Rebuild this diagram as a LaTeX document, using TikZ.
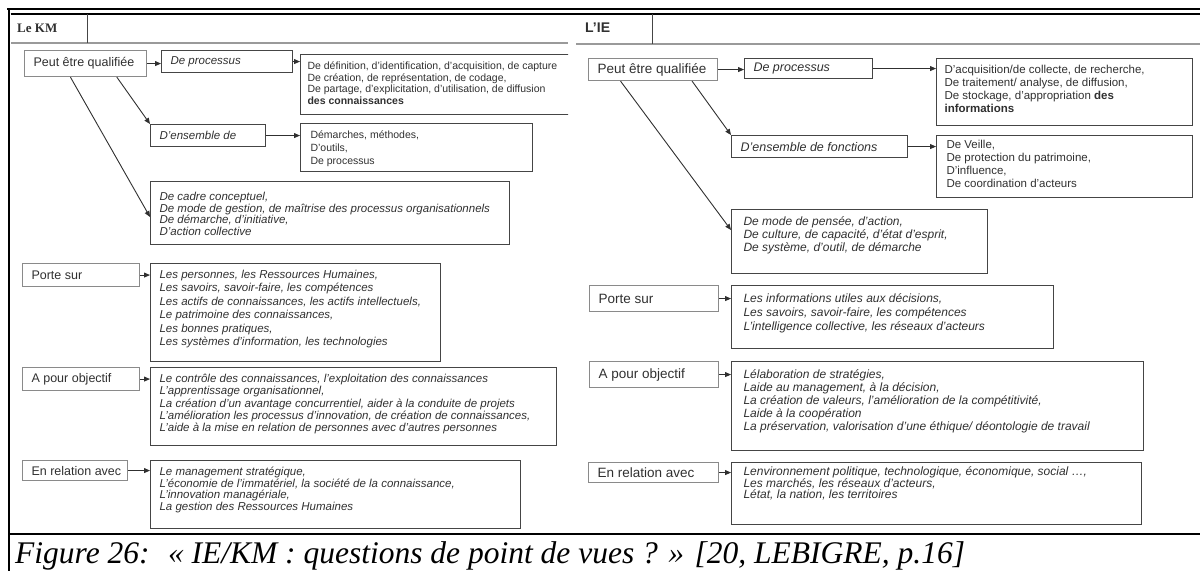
\documentclass[tikz,border=0pt]{standalone}
\usepackage{fontspec}
\setmainfont{Liberation Sans}
\newfontfamily\serifcap{Liberation Serif}
\usetikzlibrary{arrows.meta,calc}

\definecolor{inkc}{HTML}{303030}
\definecolor{frameedge}{HTML}{454545}
\definecolor{labeledge}{HTML}{8A8A8A}
\definecolor{ruleg}{HTML}{9A9A9A}

% content box: width, height, left pad, first baseline, text
\newcommand{\cbx}[5]{\parbox[c][#2pt][t]{#1pt}{\raggedright\leftskip=#3pt\relax\rule{0pt}{#4pt}#5}}
% label box: width, height, text (one line, vertically centred)
\newcommand{\lbx}[3]{\parbox[c][#2pt][c]{#1pt}{\hspace*{9pt}#3}}
\newcommand{\fs}[2]{\fontsize{#1}{#2}\selectfont}

\tikzset{
  box/.style={draw=frameedge, line width=1.1pt, inner sep=0pt, anchor=north west, text=inkc},
  lab/.style={draw=labeledge, line width=1.1pt, inner sep=0pt, anchor=north west, text=inkc},
  conn/.style={draw=inkc, line width=0.9pt, -{Triangle[length=6pt,width=5pt]}},
  frame/.style={draw=black, line width=1.8pt},
  hrule/.style={draw=ruleg, line width=1.4pt},
}

\begin{document}
\begin{tikzpicture}[x=1pt,y=-1pt]
\useasboundingbox (0,0) rectangle (1200,571);

% ---- table frame ----
\draw[frame] (7,9) -- (1200,9);
\draw[frame] (10.5,14) -- (1200,14);
\draw[frame, line width=2pt] (9,8.1) -- (9,571);
\draw[frame, line width=2pt] (9,534) -- (1200,534);

% ---- column headers ----
\node[anchor=base west, inner sep=0pt, text=inkc] (kmhead) at (17,32) {\serifcap\bfseries\fs{13}{14}Le KM};
\node[anchor=base west, inner sep=0pt, text=inkc] (iehead) at (585,32) {\bfseries\fs{14}{15}L'IE};
\draw[hrule] (11,43) -- (568,43);
\draw[hrule] (576,44) -- (1200,44);
\draw[draw=frameedge, line width=1pt] (87,14) -- (87,43);
\draw[draw=frameedge, line width=1pt] (652,14) -- (652,44);

% ================= Le KM =================
\node[lab] (peutL) at (24,50) {\lbx{122}{26}{\fs{12.5}{14}Peut être qualifiée}};
\node[box] (procL) at (161,50) {\lbx{131}{22}{\fs{11.5}{13}\itshape De processus}};
\begin{scope}
  \clip (0,0) rectangle (568,571);
  \node[box] (defL) at (300,54) {\cbx{290}{60}{7}{15}{\fs{10.5}{11.7}%
    De définition, d'identification, d'acquisition, de capture\\
    De création, de représentation, de codage,\\
    De partage, d'explicitation, d'utilisation, de diffusion\\
    \textbf{des connaissances}}};
\end{scope}
\node[box] (ensL) at (150,124) {\lbx{115}{22}{\fs{11.5}{13}\itshape D'ensemble de}};
\node[box] (demL) at (300,123) {\cbx{232}{48}{10}{15}{\fs{10.5}{13}%
    Démarches, méthodes,\\
    D'outils,\\
    De processus}};
\node[box] (cadreL) at (150,181) {\cbx{359}{63}{9}{19}{\fs{11.5}{11.7}\itshape
    De cadre conceptuel,\\
    De mode de gestion, de maîtrise des processus organisationnels\\
    De démarche, d'initiative,\\
    D'action collective}};

\node[lab] (porteL) at (22,263) {\lbx{117}{23}{\fs{12.5}{14}Porte sur}};
\node[box] (porteCL) at (150,263) {\cbx{290}{98}{9}{15}{\fs{11.5}{13.4}\itshape
    Les personnes, les Ressources Humaines,\\
    Les savoirs, savoir-faire, les compétences\\
    Les actifs de connaissances, les actifs intellectuels,\\
    Le patrimoine des connaissances,\\
    Les bonnes pratiques,\\
    Les systèmes d'information, les technologies}};

\node[lab] (objL) at (22,367) {\lbx{117}{23}{\fs{12.5}{14}A pour objectif}};
\node[box] (objCL) at (150,367) {\cbx{406}{78}{9}{15}{\fs{11.5}{12.3}\itshape
    Le contrôle des connaissances, l'exploitation des connaissances\\
    L'apprentissage organisationnel,\\
    La création d'un avantage concurrentiel, aider à la conduite de projets\\
    L'amélioration les processus d'innovation, de création de connaissances,\\
    L'aide à la mise en relation de personnes avec d'autres personnes}};

\node[lab] (relL) at (22,460) {\lbx{105}{20}{\fs{12.5}{14}En relation avec}};
\node[box] (relCL) at (150,460) {\cbx{370}{68}{9}{15}{\fs{11.5}{11.7}\itshape
    Le management stratégique,\\
    L'économie de l'immatériel, la société de la connaissance,\\
    L'innovation managériale,\\
    La gestion des Ressources Humaines}};

\draw[conn] (peutL.east) -- (peutL.east -| procL.west);
\draw[conn] (procL.east) -- (procL.east -| defL.west);
\draw[conn] (ensL.east) -- (ensL.east -| demL.west);
\draw[conn] ($(peutL.south west)!0.754!(peutL.south east)$) -- (ensL.north west);
\draw[conn] ($(peutL.south west)!0.377!(peutL.south east)$) -- ($(cadreL.north west)+(0,36)$);
\draw[conn] (porteL.east) -- (porteL.east -| porteCL.west);
\draw[conn] (objL.east) -- (objL.east -| objCL.west);
\draw[conn] (relL.east) -- (relL.east -| relCL.west);

% ================= L'IE =================
\node[lab] (peutR) at (588,58) {\lbx{129}{22}{\fs{13.5}{15}Peut être qualifiée}};
\node[box] (procR) at (744,58) {\lbx{128}{20}{\fs{12.5}{14}\itshape De processus}};
\node[box] (defR) at (936,58) {\cbx{256}{67}{8}{15}{\fs{11.5}{13}%
    D'acquisition/de collecte, de recherche,\\
    De traitement/ analyse, de diffusion,\\
    De stockage, d'appropriation \textbf{des}\\
    \textbf{informations}}};
\node[box] (ensR) at (731,135) {\lbx{176}{22}{\fs{12.5}{14}\itshape D'ensemble de fonctions}};
\node[box] (veilleR) at (936,135) {\cbx{256}{62}{10}{13}{\fs{11.5}{13}%
    De Veille,\\
    De protection du patrimoine,\\
    D'influence,\\
    De coordination d'acteurs}};
\node[box] (modeR) at (731,209) {\cbx{256}{64}{12}{16}{\fs{12}{13}\itshape
    De mode de pensée, d'action,\\
    De culture, de capacité, d'état d'esprit,\\
    De système, d'outil, de démarche}};

\node[lab] (porteR) at (589,285) {\lbx{129}{26}{\fs{13.5}{15}Porte sur}};
\node[box] (porteCR) at (731,285) {\cbx{322}{63}{12}{17}{\fs{12}{14}\itshape
    Les informations utiles aux décisions,\\
    Les savoirs, savoir-faire, les compétences\\
    L'intelligence collective, les réseaux d'acteurs}};

\node[lab] (objR) at (589,361) {\lbx{129}{26}{\fs{13.5}{15}A pour objectif}};
\node[box] (objCR) at (731,361) {\cbx{412}{89}{12}{17}{\fs{12}{13}\itshape
    Lélaboration de stratégies,\\
    Laide au management, à la décision,\\
    La création de valeurs, l'amélioration de la compétitivité,\\
    Laide à la coopération\\
    La préservation, valorisation d'une éthique/ déontologie de travail}};

\node[lab] (relR) at (588,462) {\lbx{130}{20}{\fs{13.5}{15}En relation avec}};
\node[box] (relCR) at (731,462) {\cbx{410}{62}{12}{13}{\fs{12}{11.7}\itshape
    Lenvironnement politique, technologique, économique, social …,\\
    Les marchés, les réseaux d'acteurs,\\
    Létat, la nation, les territoires}};

\draw[conn] (peutR.east) -- (peutR.east -| procR.west);
\draw[conn] (procR.east) -- (procR.east -| defR.west);
\draw[conn] (ensR.east) -- (ensR.east -| veilleR.west);
\draw[conn] ($(peutR.south west)!0.80!(peutR.south east)$) -- (ensR.north west);
\draw[conn] ($(peutR.south west)!0.25!(peutR.south east)$) -- ($(modeR.north west)+(0,21)$);
\draw[conn] (porteR.east) -- (porteR.east -| porteCR.west);
\draw[conn] (objR.east) -- (objR.east -| objCR.west);
\draw[conn] (relR.east) -- (relR.east -| relCR.west);

% ---- caption ----
\node[anchor=base west, inner sep=0pt] (caption) at (15,563)
  {\serifcap\itshape\fs{31.5}{34}Figure 26:~ « IE/KM : questions de point de vues ? » [20, LEBIGRE, p.16]};
\end{tikzpicture}
\end{document}
